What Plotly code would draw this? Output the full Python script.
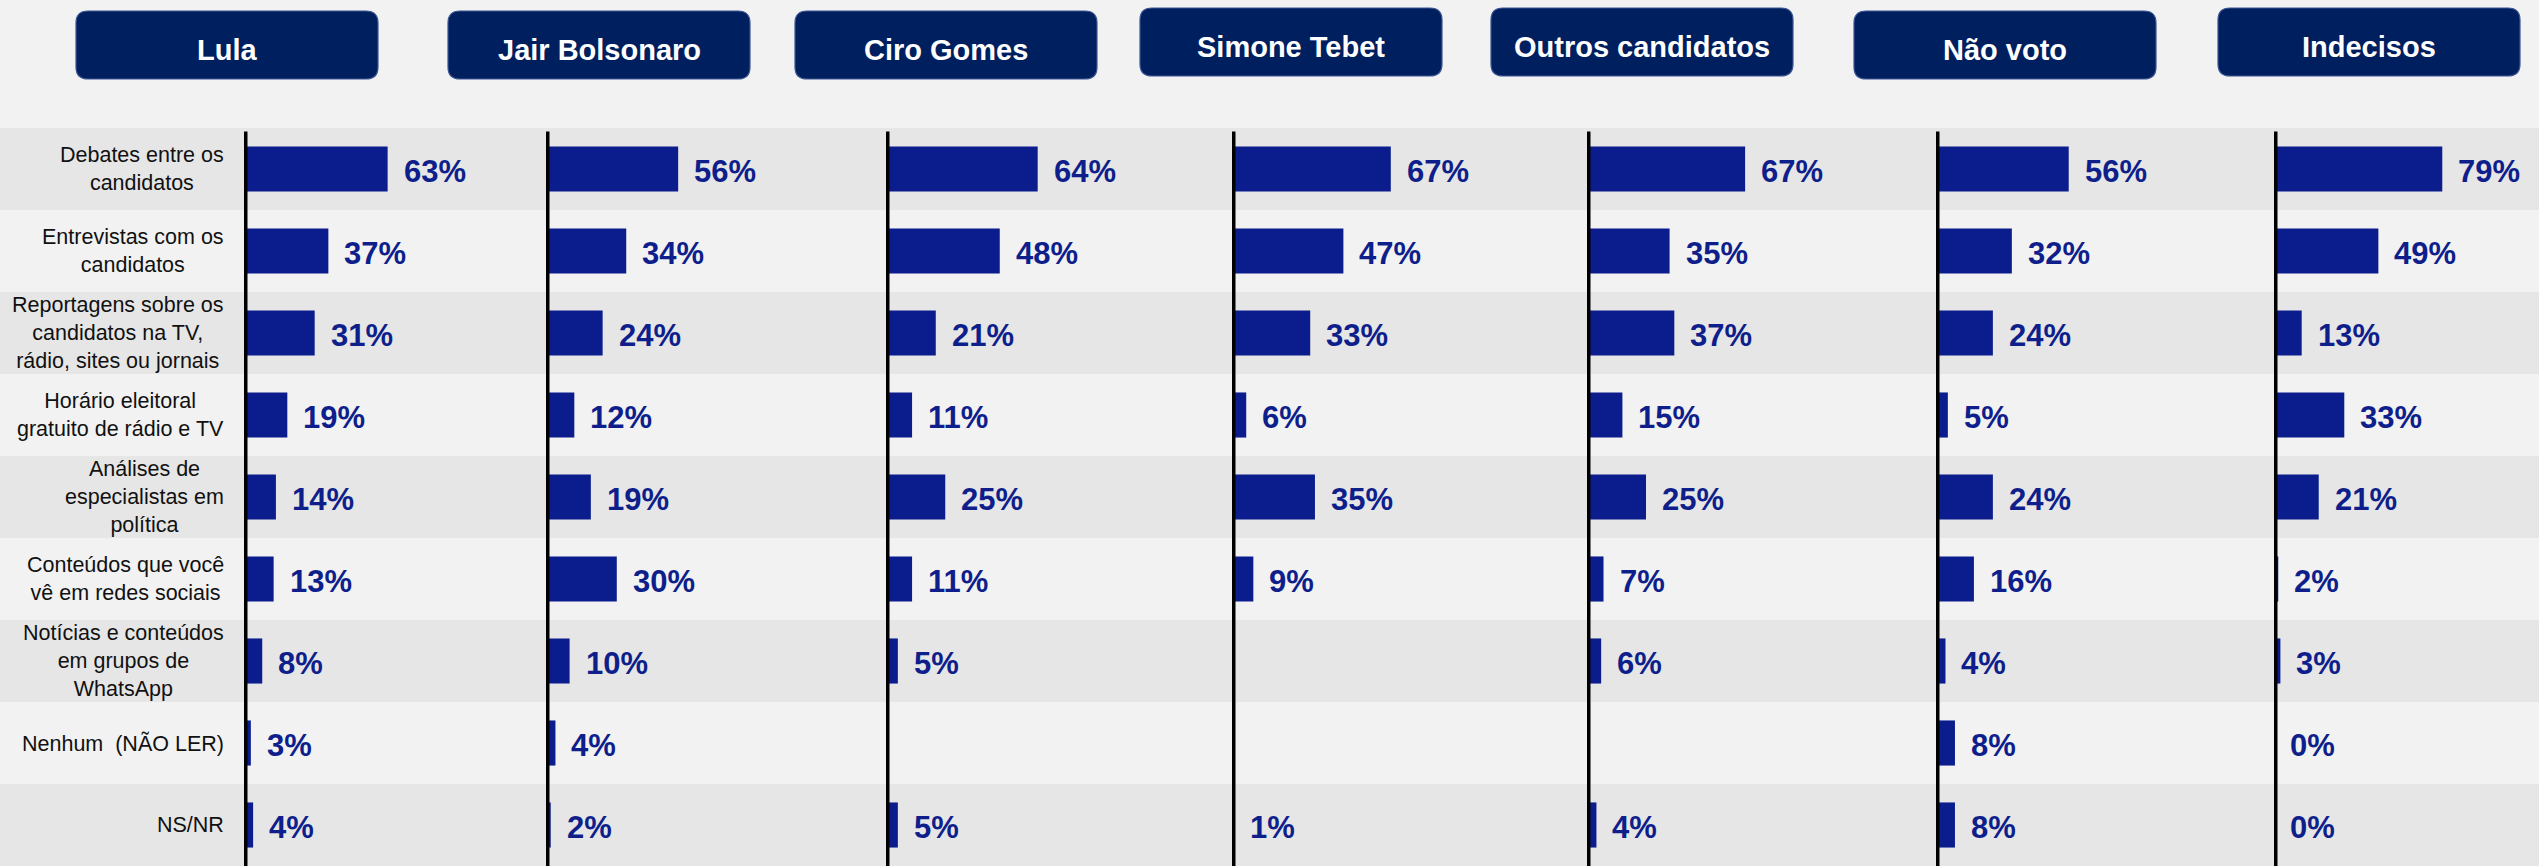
import plotly.graph_objects as go

# Information sources that helped each voter group decide (% of mentions)
categories = [
    "Debates entre os<br>candidatos",
    "Entrevistas com os<br>candidatos",
    "Reportagens sobre os<br>candidatos na TV,<br>rádio, sites ou jornais",
    "Horário eleitoral<br>gratuito de rádio e TV",
    "Análises de<br>especialistas em<br>política",
    "Conteúdos que você<br>vê em redes sociais",
    "Notícias e conteúdos<br>em grupos de<br>WhatsApp",
    "Nenhum\u00a0 (NÃO LER)",
    "NS/NR",
]

groups = ["Lula", "Jair Bolsonaro", "Ciro Gomes", "Simone Tebet",
          "Outros candidatos", "Não voto", "Indecisos"]

lula = [63, 37, 31, 19, 14, 13, 8, 3, 4]
bolsonaro = [56, 34, 24, 12, 19, 30, 10, 4, 2]
ciro = [64, 48, 21, 11, 25, 11, 5, None, 5]
tebet = [67, 47, 33, 6, 35, 9, None, None, 1]
outros = [67, 35, 37, 15, 25, 7, 6, None, 4]
nao_voto = [56, 32, 24, 5, 24, 16, 4, 8, 8]
indecisos = [79, 49, 13, 33, 21, 2, 3, 0, 0]

series = [lula, bolsonaro, ciro, tebet, outros, nao_voto, indecisos]

# ---- layout constants (pixels) ----
W, H = 2539, 866
PLOT_TOP = 128                      # top of the striped table area
AXIS_X = [244, 546, 886, 1232, 1587, 1936, 2274]   # zero line of each panel
PX_PER_PCT = [2.28, 2.36, 2.37, 2.37, 2.36, 2.37, 2.13]
PANEL_W = 260
BOX_LEFT = [76, 448, 795, 1140, 1491, 1854, 2218]
BOX_TOP = [11, 11, 11, 8, 8, 11, 8]
BOX_W, BOX_H, BOX_R = 302, 68, 12
LABEL_RIGHT = 226

FONT = "Liberation Sans, Arial, sans-serif"
BAR_COLOR = "#0B1D8C"
VALUE_COLOR = "#0E1F8B"
NAVY = "#001F5F"
BG = "#F2F2F2"
STRIPE = "#E6E6E6"


def px(x):
    return x / W


def py(y):
    return 1 - y / H


def axis_name(i, kind="x"):
    return kind if i == 0 else f"{kind}{i + 1}"


fig = go.Figure()

for i, vals in enumerate(series):
    fig.add_trace(go.Bar(
        x=vals, y=categories, orientation="h",
        xaxis=axis_name(i), yaxis="y",
        marker=dict(color=BAR_COLOR, line=dict(width=0)),
        hoverinfo="skip", showlegend=False,
    ))

layout_axes = {}
for i in range(len(series)):
    key = "xaxis" if i == 0 else f"xaxis{i + 1}"
    layout_axes[key] = dict(
        domain=[px(AXIS_X[i]), px(AXIS_X[i] + PANEL_W)],
        range=[0, PANEL_W / PX_PER_PCT[i]],
        visible=False, anchor="y", fixedrange=True,
    )

y_top = py(PLOT_TOP)
layout_axes["yaxis"] = dict(
    domain=[0, y_top], type="category",
    categoryorder="array", categoryarray=categories,
    range=[len(categories) - 0.5, -0.5],
    visible=False, anchor="x", fixedrange=True,
)

shapes = []
# alternating row stripes
for r in range(0, len(categories), 2):
    shapes.append(dict(type="rect", xref="paper", x0=0, x1=1,
                       yref="y", y0=r - 0.5, y1=r + 0.5,
                       fillcolor=STRIPE, line=dict(width=0), layer="below"))

# black baseline of each panel
for i in range(len(series)):
    shapes.append(dict(type="line", xref=axis_name(i), x0=0, x1=0,
                       yref="paper", y0=0, y1=y_top - 0.004,
                       line=dict(color="black", width=7)))


def rounded_box(x0, y0, w, h, r):
    x1, y1 = x0 + w, y0 + h
    pts = [
        f"M {px(x0 + r)},{py(y0)}",
        f"L {px(x1 - r)},{py(y0)}",
        f"Q {px(x1)},{py(y0)} {px(x1)},{py(y0 + r)}",
        f"L {px(x1)},{py(y1 - r)}",
        f"Q {px(x1)},{py(y1)} {px(x1 - r)},{py(y1)}",
        f"L {px(x0 + r)},{py(y1)}",
        f"Q {px(x0)},{py(y1)} {px(x0)},{py(y1 - r)}",
        f"L {px(x0)},{py(y0 + r)}",
        f"Q {px(x0)},{py(y0)} {px(x0 + r)},{py(y0)}",
        "Z",
    ]
    return " ".join(pts)


annotations = []
for i, name in enumerate(groups):
    shapes.append(dict(type="path", xref="paper", yref="paper",
                       path=rounded_box(BOX_LEFT[i], BOX_TOP[i], BOX_W, BOX_H, BOX_R),
                       fillcolor=NAVY, line=dict(color="#3B5592", width=1.2)))
    annotations.append(dict(
        xref="paper", yref="paper",
        x=px(BOX_LEFT[i] + BOX_W / 2), y=py(BOX_TOP[i] + BOX_H / 2 + 5),
        text=name, showarrow=False, xanchor="center", yanchor="middle",
        font=dict(family=FONT, size=29, color="white", weight="bold"),
    ))

# row labels
for cat in categories:
    annotations.append(dict(
        xref="paper", x=px(LABEL_RIGHT), xanchor="right",
        yref="y", y=cat, yanchor="middle",
        text=cat, align="center", showarrow=False,
        font=dict(family=FONT, size=21.5, color="#111111"),
    ))

# value labels
for i, vals in enumerate(series):
    for cat, v in zip(categories, vals):
        if v is None:
            continue
        annotations.append(dict(
            xref=axis_name(i), x=v, xanchor="left", xshift=14,
            yref="y", y=cat, yanchor="middle", yshift=-2,
            text=f"{v}%", showarrow=False,
            font=dict(family=FONT, size=31, color=VALUE_COLOR, weight="bold"),
        ))

fig.update_layout(
    width=W, height=H,
    margin=dict(l=0, r=0, t=0, b=0),
    paper_bgcolor=BG, plot_bgcolor="rgba(0,0,0,0)",
    bargap=0.45,
    shapes=shapes, annotations=annotations,
    **layout_axes,
)

fig.write_html("out.html", config={"displayModeBar": False})
